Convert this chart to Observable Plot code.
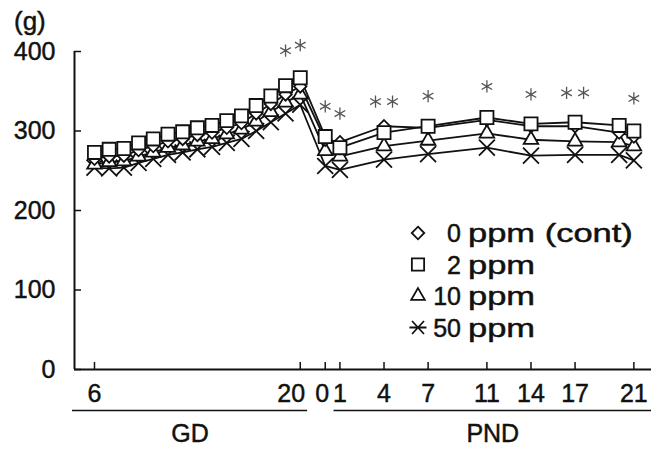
<!DOCTYPE html>
<html><head><meta charset="utf-8">
<script src="https://cdn.jsdelivr.net/npm/d3@7"></script>
<script src="https://cdn.jsdelivr.net/npm/@observablehq/plot@0.6"></script>
<style>
body{margin:0;background:#fff;}
#wrap{position:relative;width:665px;height:452px;font-family:"Liberation Sans",Arial,sans-serif;color:#111;}
#ylab{position:absolute;left:14px;top:8px;font-size:26px;line-height:26px;-webkit-text-stroke:0.45px #111;}
#legend{position:absolute;left:0;top:0;pointer-events:none;}
#wrap text{stroke:#111;stroke-width:0.45px;}
</style></head><body>
<div id="wrap"><div id="ylab">(g)</div></div>
<script>
// ---- data ----
const groups = ["0 ppm (cont)", "2 ppm", "10 ppm", "50 ppm"];
const gdDays  = [6, 7, 8, 9, 10, 11, 12, 13, 14, 15, 16, 17, 18, 19, 20];
const pndDays = [0, 1, 4, 7, 11, 14, 17, 20, 21];

const gd_0ppm  = [265, 268, 269, 276, 281, 287, 290, 295, 298, 304, 310, 322, 334, 346, 356];
const gd_2ppm  = [273, 277, 278, 285, 290, 296, 299, 304, 307, 313, 319, 332, 344, 357, 367];
const gd_10ppm = [258, 261, 262, 268, 273, 279, 282, 287, 290, 296, 302, 312, 324, 336, 346];
const gd_50ppm = [254, 253, 254, 260, 265, 270, 273, 277, 280, 285, 290, 300, 311, 322, 333];

const pnd_0ppm  = [289, 286, 306, 304, 314, 306, 306, 298, 293];
const pnd_2ppm  = [293, 279, 298, 306, 317, 309, 311, 307, 300];
const pnd_10ppm = [275, 268, 281, 288, 297, 289, 287, 286, 281];
const pnd_50ppm = [256, 251, 264, 271, 279, 269, 270, 270, 263];

const yTicks = [0, 100, 200, 300, 400];
const gdTickDays = [6, 20];
const pndTickDays = [0, 1, 4, 7, 11, 14, 17, 21];

// significance asterisks: phase, day, height (g), count
const sigPhase = ["GD", "GD", "PND", "PND", "PND", "PND", "PND", "PND", "PND", "PND"];
const sigDay   = [19, 20, 0, 1, 4, 7, 11, 14, 17, 21];
const sigG     = [401, 408, 331, 322, 337, 344, 356, 346, 348, 341];
const sigCount = [1, 1, 1, 1, 2, 1, 1, 1, 2, 1];

// ---- build table ----
const pndOffset = 21.7; // PND day 0 sits after GD 20
const tOf = (phase, day) => phase === "GD" ? day : pndOffset + day;
const series = {
  "0 ppm (cont)": [gd_0ppm, pnd_0ppm],
  "2 ppm": [gd_2ppm, pnd_2ppm],
  "10 ppm": [gd_10ppm, pnd_10ppm],
  "50 ppm": [gd_50ppm, pnd_50ppm]
};
const rows = [];
for (const g of groups) {
  const [a, b] = series[g];
  gdDays.forEach((d, i) => rows.push({group: g, phase: "GD", day: d, t: tOf("GD", d), g: a[i]}));
  pndDays.forEach((d, i) => rows.push({group: g, phase: "PND", day: d, t: tOf("PND", d), g: b[i]}));
}
const tickLabel = new Map();
gdTickDays.forEach(d => tickLabel.set(tOf("GD", d), String(d)));
pndTickDays.forEach(d => tickLabel.set(tOf("PND", d), String(d)));
const xTickT = [...tickLabel.keys()];
const tGD20 = tOf("GD", 20), tPND0 = tOf("PND", 0);

const sig = sigDay.map((d, i) => ({t: tOf(sigPhase[i], d), g: sigG[i], n: sigCount[i]}));

const W = 665, H = 452, mL = 74, mR = 14, mT = 51, mB = 83;
const xDomain = [4.64, 43.9];
const frameW = W - mL - mR, frameH = H - mT - mB;
const spans = [
  {name: "GD", start: 4.5, end: tOf("GD", 20) + 0.5},
  {name: "PND", start: tOf("PND", 0) + 0.6, end: xDomain[1]}
];

const symbols = {"0 ppm (cont)": "diamond2", "2 ppm": "square", "10 ppm": "triangle", "50 ppm": "times"};
const radii = {"0 ppm (cont)": 5.6, "2 ppm": 7.4, "10 ppm": 5.4, "50 ppm": 7.3};
const ink = "#111";
const drawOrder = ["50 ppm", "10 ppm", "0 ppm (cont)", "2 ppm"];
const font = '"Liberation Sans", Arial, sans-serif';
const xLab = (ticks, dx) => Plot.axisX({ticks, tickFormat: t => tickLabel.get(t), tickSize: 0, tickPadding: 15, dx, label: null, fontSize: 25});

const chart = Plot.plot({
  width: W, height: H,
  marginLeft: mL, marginRight: mR, marginTop: mT, marginBottom: mB,
  style: {fontFamily: font, fontSize: "25px", color: ink, background: "white", overflow: "visible"},
  x: {domain: xDomain, axis: null},
  y: {domain: [0, 400], axis: null},
  marks: [
    Plot.axisY({ticks: yTicks, tickSize: 0, tickPadding: 19, label: null, fontSize: 25}),
    xLab(xTickT.filter(t => t !== tGD20 && t !== tPND0), 0),
    xLab([tGD20], -9),
    xLab([tPND0], -3),
    Plot.tickX(xTickT, {x: d => d, insetTop: frameH - 7, stroke: ink, strokeWidth: 1.5}),
    Plot.tickY(yTicks, {y: d => d, insetRight: frameW - 7, stroke: ink, strokeWidth: 1.5}),
    Plot.ruleY([0], {stroke: ink, strokeWidth: 2}),
    Plot.ruleX([xDomain[0]], {stroke: ink, strokeWidth: 2}),
    Plot.ruleY(spans, {x1: "start", x2: "end", y: () => 0, dy: 41, stroke: ink, strokeWidth: 1.6}),
    Plot.text(spans, {x: d => (d.start + d.end) / 2, y: () => 0, dy: 64, text: "name", fontSize: 25, fill: ink}),
    Plot.line(rows, {x: "t", y: "g", z: "group", stroke: ink, strokeWidth: 1.8}),
    ...drawOrder.map(g => Plot.dot(rows.filter(r => r.group === g), {
      x: "t", y: "g", symbol: symbols[g], r: radii[g], fill: g === "50 ppm" ? "none" : "white", stroke: ink, strokeWidth: 1.8
    })),
    Plot.dot(sig.filter(s => s.n === 1), {x: "t", y: "g", symbol: "asterisk", r: 5.8, stroke: "#555", strokeWidth: 1.3}),
    Plot.dot(sig.filter(s => s.n === 2), {x: "t", y: "g", symbol: "asterisk", r: 5.8, dx: -8.5, stroke: "#555", strokeWidth: 1.3}),
    Plot.dot(sig.filter(s => s.n === 2), {x: "t", y: "g", symbol: "asterisk", r: 5.8, dx: 8.5, stroke: "#555", strokeWidth: 1.3})
  ]
});
const wrap = document.getElementById("wrap");
wrap.insertBefore(chart, wrap.firstChild);

// ---- legend (overlay) ----
const leg = d3.select(wrap).append("svg").attr("id", "legend").attr("width", W).attr("height", H);
const legSym = {
  "0 ppm (cont)": d3.symbol(d3.symbolDiamond2, 100)(),
  "2 ppm": d3.symbol(d3.symbolSquare, 150)(),
  "10 ppm": d3.symbol(d3.symbolTriangle, 80)(),
  "50 ppm": "M-8.5,0H8.5M-6,-6.5L6,6.5M-6,6.5L6,-6.5"
};
groups.forEach((g, i) => {
  const y = 233 + i * 31.5;
  const sp = g.indexOf(" ");
  const num = g.slice(0, sp), rest = g.slice(sp + 1);
  leg.append("path").attr("d", legSym[g]).attr("transform", `translate(418,${y})`)
    .attr("fill", g === "50 ppm" ? "none" : "white").attr("stroke", ink).attr("stroke-width", 1.8);
  leg.append("text").attr("x", 461).attr("y", y).attr("dy", "0.36em").attr("text-anchor", "end")
    .attr("font-size", 25).attr("fill", ink).attr("font-family", font).text(num);
  leg.append("text").attr("transform", `translate(468,${y}) scale(1.38,1)`).attr("dy", "0.36em")
    .attr("font-size", 25).attr("fill", ink).attr("font-family", font).text(rest);
});
</script>
</body></html>
